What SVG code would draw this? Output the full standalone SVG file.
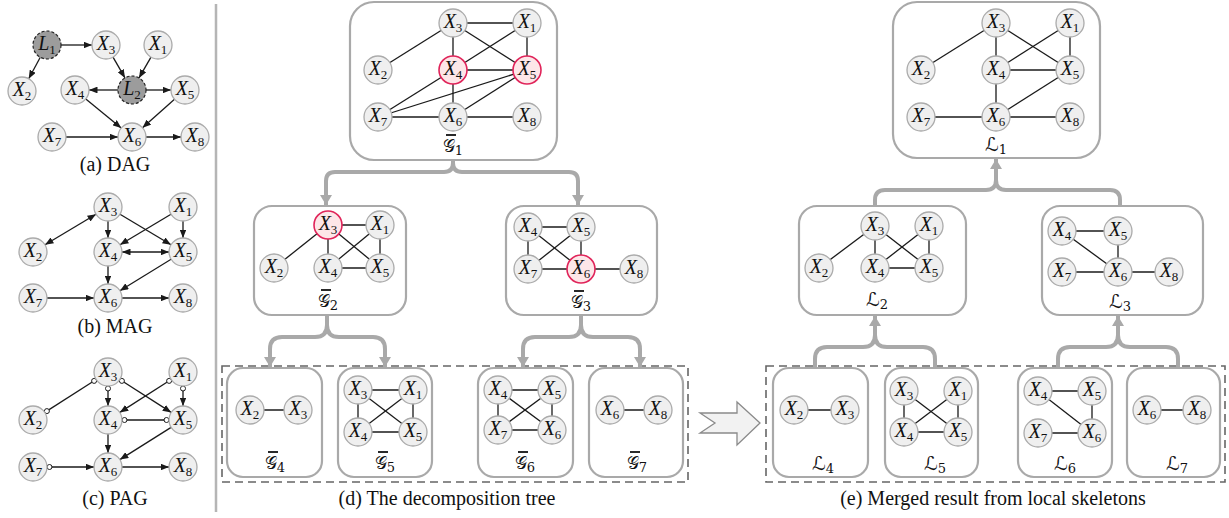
<svg xmlns="http://www.w3.org/2000/svg" width="1229" height="518" viewBox="0 0 1229 518">
<defs>
<style>
.nd{fill:#efefef;stroke:#ababab;stroke-width:1.3}
.hl{fill:#fde6e8;stroke:#e0245a;stroke-width:1.6}
.lt{fill:#9c9c9c;stroke:#222;stroke-width:1.2;stroke-dasharray:3 2}
.lb{font-family:"Liberation Serif",serif;font-style:italic;font-size:20px;text-anchor:middle;fill:#111}
.sb{font-style:normal;font-size:13px}
.e line{stroke:#1a1a1a;stroke-width:1.3}
.d line{stroke:#1a1a1a;stroke-width:1.3;marker-end:url(#ah)}
.bd{marker-start:url(#ah)}
.oc{fill:#fff;stroke:#1a1a1a;stroke-width:1}
.bx{fill:#fff;stroke:#a9a9a9;stroke-width:2.2}
.tr path{fill:none;stroke:#a9a9a9;stroke-width:4}
.cap{font-family:"Liberation Serif",serif;font-size:20px;text-anchor:middle;fill:#111}
.gl{font-family:"DejaVu Serif","DejaVu Sans",serif;font-size:17px;text-anchor:middle;fill:#111}
.sl{font-size:19px}
.gs{font-size:13px}
.ov{stroke:#111;stroke-width:1.8}
.dsh{fill:none;stroke:#666;stroke-width:1.6;stroke-dasharray:8 5}
</style>
<marker id="ah" viewBox="0 0 10 8" refX="10" refY="4" markerWidth="8.5" markerHeight="6.8" markerUnits="userSpaceOnUse" orient="auto-start-reverse"><path d="M0,0 L10,4 L0,8 z" fill="#1a1a1a"/></marker>
<marker id="ga" viewBox="0 0 10 12" refX="10" refY="6" markerWidth="10" markerHeight="12" markerUnits="userSpaceOnUse" orient="auto"><path d="M0,0 L10,6 L0,12 z" fill="#a9a9a9"/></marker>
</defs>
<rect width="1229" height="518" fill="#fff"/>

<!-- panel separator -->
<line x1="216" y1="4" x2="216" y2="512" stroke="#b5b5b5" stroke-width="2.5"/>

<!-- container boxes -->
<g id="box-g1"><rect class="bx" x="350" y="2" width="207" height="158" rx="24"/></g>
<g id="box-g2"><rect class="bx" x="254" y="206" width="152" height="109" rx="18"/></g>
<g id="box-g3"><rect class="bx" x="506" y="206" width="151" height="109" rx="18"/></g>
<g id="box-l1"><rect class="bx" x="893" y="2" width="207" height="156" rx="24"/></g>
<g id="box-l2"><rect class="bx" x="799" y="206" width="167" height="109" rx="18"/></g>
<g id="box-l3"><rect class="bx" x="1042" y="206" width="161" height="109" rx="18"/></g>
<rect class="dsh" x="222" y="366" width="466" height="116"/>
<rect class="dsh" x="766" y="366" width="459" height="116"/>
<g id="box-g4"><rect class="bx" x="227" y="368" width="95" height="109" rx="16"/></g>
<g id="box-g5"><rect class="bx" x="338" y="368" width="94" height="109" rx="16"/></g>
<g id="box-g6"><rect class="bx" x="478" y="368" width="95" height="109" rx="16"/></g>
<g id="box-g7"><rect class="bx" x="589" y="368" width="94" height="109" rx="16"/></g>
<g id="box-l4"><rect class="bx" x="773" y="368" width="95" height="109" rx="16"/></g>
<g id="box-l5"><rect class="bx" x="885" y="368" width="93" height="109" rx="16"/></g>
<g id="box-l6"><rect class="bx" x="1018" y="368" width="94" height="109" rx="16"/></g>
<g id="box-l7"><rect class="bx" x="1127" y="368" width="93" height="109" rx="16"/></g>

<g id="connectors">
 <!-- DAG -->
 <g class="d">
  <line x1="61" y1="45" x2="92" y2="45"/>
  <line x1="40.3" y1="57.3" x2="28.7" y2="78.7"/>
  <line x1="113" y1="57.1" x2="125" y2="77.9"/>
  <line x1="151" y1="57.1" x2="139" y2="77.9"/>
  <line x1="118" y1="90" x2="89" y2="90"/>
  <line x1="146" y1="90" x2="171" y2="90"/>
  <line x1="85.8" y1="98.9" x2="121.2" y2="128.1"/>
  <line x1="174.5" y1="99.3" x2="142.5" y2="127.7"/>
  <line x1="66" y1="137" x2="118" y2="137"/>
  <line x1="146" y1="137" x2="181" y2="137"/>
 </g>
 <!-- MAG -->
 <g class="d">
  <line class="bd" x1="96" y1="214.2" x2="45" y2="244.8"/>
  <line x1="108" y1="221" x2="108" y2="238"/>
  <line x1="120" y1="214.2" x2="171" y2="244.8"/>
  <line x1="171" y1="214.2" x2="120" y2="244.8"/>
  <line x1="183" y1="221" x2="183" y2="238"/>
  <line class="bd" x1="122" y1="252" x2="169" y2="252"/>
  <line x1="108" y1="266" x2="108" y2="284"/>
  <line x1="171.1" y1="259.3" x2="119.9" y2="290.7"/>
  <line x1="47" y1="298" x2="94" y2="298"/>
  <line x1="122" y1="298" x2="169" y2="298"/>
 </g>
 <!-- PAG -->
 <g class="e">
  <line x1="96.2" y1="379.5" x2="44.8" y2="412.4"/>
  <line x1="122" y1="420" x2="169" y2="420"/>
 </g>
 <g class="d">
  <line x1="108" y1="386" x2="108" y2="406"/>
  <line x1="119.8" y1="379.5" x2="171.2" y2="412.4"/>
  <line x1="171.2" y1="379.5" x2="119.8" y2="412.4"/>
  <line x1="183" y1="386" x2="183" y2="406"/>
  <line x1="108" y1="434" x2="108" y2="453"/>
  <line x1="171.1" y1="427.4" x2="119.9" y2="459.6"/>
  <line x1="47" y1="467" x2="94" y2="467"/>
  <line x1="122" y1="467" x2="169" y2="467"/>
 </g>
 <g id="pag-marks">
  <circle class="oc" cx="94.1" cy="380.9" r="2.5"/>
  <circle class="oc" cx="46.9" cy="411.1" r="2.5"/>
  <circle class="oc" cx="108" cy="388.5" r="2.5"/>
  <circle class="oc" cx="121.9" cy="380.9" r="2.5"/>
  <circle class="oc" cx="169.1" cy="380.9" r="2.5"/>
  <circle class="oc" cx="183" cy="388.5" r="2.5"/>
  <circle class="oc" cx="124.5" cy="420" r="2.5"/>
  <circle class="oc" cx="166.5" cy="420" r="2.5"/>
  <circle class="oc" cx="49.5" cy="467" r="2.5"/>
 </g>
 <!-- skeleton edges -->
 <g class="e">
  <!-- G1 -->
  <line x1="453" y1="23" x2="527" y2="23"/>
  <line x1="453" y1="23" x2="378" y2="70"/>
  <line x1="453" y1="23" x2="453" y2="70"/>
  <line x1="453" y1="23" x2="527" y2="70"/>
  <line x1="527" y1="23" x2="453" y2="70"/>
  <line x1="527" y1="23" x2="527" y2="70"/>
  <line x1="453" y1="70" x2="527" y2="70"/>
  <line x1="453" y1="70" x2="453" y2="117"/>
  <line x1="453" y1="70" x2="378" y2="117"/>
  <line x1="527" y1="70" x2="378" y2="117"/>
  <line x1="527" y1="70" x2="453" y2="117"/>
  <line x1="378" y1="117" x2="453" y2="117"/>
  <line x1="453" y1="117" x2="527" y2="117"/>
  <!-- L1 -->
  <line x1="996" y1="23" x2="921" y2="70"/>
  <line x1="996" y1="23" x2="996" y2="70"/>
  <line x1="996" y1="23" x2="1070" y2="70"/>
  <line x1="1070" y1="23" x2="996" y2="70"/>
  <line x1="1070" y1="23" x2="1070" y2="70"/>
  <line x1="996" y1="70" x2="1070" y2="70"/>
  <line x1="996" y1="70" x2="996" y2="117"/>
  <line x1="1070" y1="70" x2="996" y2="117"/>
  <line x1="921" y1="117" x2="996" y2="117"/>
  <line x1="996" y1="117" x2="1070" y2="117"/>
  <!-- G2 -->
  <line x1="328" y1="225" x2="380" y2="225"/>
  <line x1="328" y1="225" x2="274" y2="268"/>
  <line x1="328" y1="225" x2="328" y2="268"/>
  <line x1="328" y1="225" x2="380" y2="268"/>
  <line x1="380" y1="225" x2="328" y2="268"/>
  <line x1="380" y1="225" x2="380" y2="268"/>
  <line x1="328" y1="268" x2="380" y2="268"/>
  <!-- L2 -->
  <line x1="875" y1="226" x2="819" y2="268"/>
  <line x1="875" y1="226" x2="875" y2="268"/>
  <line x1="875" y1="226" x2="929" y2="268"/>
  <line x1="929" y1="226" x2="875" y2="268"/>
  <line x1="929" y1="226" x2="929" y2="268"/>
  <line x1="875" y1="268" x2="929" y2="268"/>
  <!-- G3 -->
  <line x1="528" y1="227" x2="581" y2="227"/>
  <line x1="528" y1="227" x2="528" y2="269"/>
  <line x1="528" y1="227" x2="581" y2="269"/>
  <line x1="581" y1="227" x2="528" y2="269"/>
  <line x1="581" y1="227" x2="581" y2="269"/>
  <line x1="528" y1="269" x2="581" y2="269"/>
  <line x1="581" y1="269" x2="634" y2="269"/>
  <!-- L3 -->
  <line x1="1062" y1="231" x2="1118" y2="231"/>
  <line x1="1062" y1="231" x2="1118" y2="272"/>
  <line x1="1118" y1="231" x2="1118" y2="272"/>
  <line x1="1062" y1="272" x2="1118" y2="272"/>
  <line x1="1118" y1="272" x2="1169" y2="272"/>
  <!-- G4 -->
  <line x1="250" y1="410" x2="298" y2="410"/>
  <!-- G5 -->
  <line x1="358" y1="390" x2="413" y2="390"/>
  <line x1="358" y1="390" x2="358" y2="432"/>
  <line x1="358" y1="390" x2="413" y2="432"/>
  <line x1="413" y1="390" x2="358" y2="432"/>
  <line x1="413" y1="390" x2="413" y2="432"/>
  <line x1="358" y1="432" x2="413" y2="432"/>
  <!-- G6 -->
  <line x1="498" y1="390" x2="552" y2="390"/>
  <line x1="498" y1="390" x2="498" y2="430"/>
  <line x1="498" y1="390" x2="552" y2="430"/>
  <line x1="552" y1="390" x2="498" y2="430"/>
  <line x1="552" y1="390" x2="552" y2="430"/>
  <line x1="498" y1="430" x2="552" y2="430"/>
  <!-- G7 -->
  <line x1="610" y1="410" x2="658" y2="410"/>
  <!-- L4 -->
  <line x1="794" y1="410" x2="845" y2="410"/>
  <!-- L5 -->
  <line x1="904" y1="391" x2="904" y2="432"/>
  <line x1="904" y1="391" x2="958" y2="432"/>
  <line x1="958" y1="391" x2="904" y2="432"/>
  <line x1="958" y1="391" x2="958" y2="432"/>
  <line x1="904" y1="432" x2="958" y2="432"/>
  <!-- L6 -->
  <line x1="1038" y1="391" x2="1092" y2="391"/>
  <line x1="1038" y1="391" x2="1092" y2="433"/>
  <line x1="1092" y1="391" x2="1092" y2="433"/>
  <line x1="1038" y1="433" x2="1092" y2="433"/>
  <!-- L7 -->
  <line x1="1147" y1="410" x2="1197" y2="410"/>
 </g>
 <!-- tree links -->
 <g class="tr">
  <path d="M453,160 V163 Q453,172 444,172 H335 Q326,172 326,181 V205" marker-end="url(#ga)"/>
  <path d="M453,160 V163 Q453,172 462,172 H569 Q578,172 578,181 V205" marker-end="url(#ga)"/>
  <path d="M327,315 V325 Q327,337 315,337 H282 Q270,337 270,349 V367" marker-end="url(#ga)"/>
  <path d="M327,315 V325 Q327,337 339,337 H373 Q385,337 385,349 V367" marker-end="url(#ga)"/>
  <path d="M581,315 V325 Q581,337 569,337 H535 Q523,337 523,349 V367" marker-end="url(#ga)"/>
  <path d="M581,315 V325 Q581,337 593,337 H628 Q640,337 640,349 V367" marker-end="url(#ga)"/>
  <path d="M875,206 V200 Q875,190 885,190 H986 Q996,190 996,180 V159" marker-end="url(#ga)"/>
  <path d="M1120,206 V200 Q1120,190 1110,190 H1006 Q996,190 996,180 V170"/>
  <path d="M815,368 V359 Q815,347 827,347 H863 Q875,347 875,335 V316" marker-end="url(#ga)"/>
  <path d="M935,368 V359 Q935,347 923,347 H887 Q875,347 875,335 V326"/>
  <path d="M1058,368 V359 Q1058,347 1070,347 H1106 Q1118,347 1118,335 V316" marker-end="url(#ga)"/>
  <path d="M1178,368 V359 Q1178,347 1166,347 H1130 Q1118,347 1118,335 V326"/>
 </g>
</g>

<!-- merge arrow -->
<polygon points="700,413 737,413 737,402 760,423 737,445 737,433 700,433 715,423" fill="#f2f2f2" stroke="#8a8a8a" stroke-width="1.3"/>

<!-- DAG nodes -->
<g id="dag-l1"><circle class="lt" cx="47" cy="45" r="14"/><text class="lb" x="47" y="50">L<tspan class="sb" dy="4">1</tspan></text></g>
<g id="dag-x3"><circle class="nd" cx="106" cy="45" r="14"/><text class="lb" x="106" y="50">X<tspan class="sb" dy="4">3</tspan></text></g>
<g id="dag-x1"><circle class="nd" cx="158" cy="45" r="14"/><text class="lb" x="158" y="50">X<tspan class="sb" dy="4">1</tspan></text></g>
<g id="dag-x2"><circle class="nd" cx="22" cy="91" r="14"/><text class="lb" x="22" y="96">X<tspan class="sb" dy="4">2</tspan></text></g>
<g id="dag-x4"><circle class="nd" cx="75" cy="90" r="14"/><text class="lb" x="75" y="95">X<tspan class="sb" dy="4">4</tspan></text></g>
<g id="dag-l2"><circle class="lt" cx="132" cy="90" r="14"/><text class="lb" x="132" y="95">L<tspan class="sb" dy="4">2</tspan></text></g>
<g id="dag-x5"><circle class="nd" cx="185" cy="90" r="14"/><text class="lb" x="185" y="95">X<tspan class="sb" dy="4">5</tspan></text></g>
<g id="dag-x7"><circle class="nd" cx="52" cy="137" r="14"/><text class="lb" x="52" y="142">X<tspan class="sb" dy="4">7</tspan></text></g>
<g id="dag-x6"><circle class="nd" cx="132" cy="137" r="14"/><text class="lb" x="132" y="142">X<tspan class="sb" dy="4">6</tspan></text></g>
<g id="dag-x8"><circle class="nd" cx="195" cy="137" r="14"/><text class="lb" x="195" y="142">X<tspan class="sb" dy="4">8</tspan></text></g>
<text class="cap" x="115" y="171">(a) DAG</text>

<!-- MAG nodes -->
<g id="mag-x3"><circle class="nd" cx="108" cy="207" r="14"/><text class="lb" x="108" y="212">X<tspan class="sb" dy="4">3</tspan></text></g>
<g id="mag-x1"><circle class="nd" cx="183" cy="207" r="14"/><text class="lb" x="183" y="212">X<tspan class="sb" dy="4">1</tspan></text></g>
<g id="mag-x2"><circle class="nd" cx="33" cy="252" r="14"/><text class="lb" x="33" y="257">X<tspan class="sb" dy="4">2</tspan></text></g>
<g id="mag-x4"><circle class="nd" cx="108" cy="252" r="14"/><text class="lb" x="108" y="257">X<tspan class="sb" dy="4">4</tspan></text></g>
<g id="mag-x5"><circle class="nd" cx="183" cy="252" r="14"/><text class="lb" x="183" y="257">X<tspan class="sb" dy="4">5</tspan></text></g>
<g id="mag-x7"><circle class="nd" cx="33" cy="298" r="14"/><text class="lb" x="33" y="303">X<tspan class="sb" dy="4">7</tspan></text></g>
<g id="mag-x6"><circle class="nd" cx="108" cy="298" r="14"/><text class="lb" x="108" y="303">X<tspan class="sb" dy="4">6</tspan></text></g>
<g id="mag-x8"><circle class="nd" cx="183" cy="298" r="14"/><text class="lb" x="183" y="303">X<tspan class="sb" dy="4">8</tspan></text></g>
<text class="cap" x="115" y="333">(b) MAG</text>

<!-- PAG nodes -->
<g id="pag-x3"><circle class="nd" cx="108" cy="372" r="14"/><text class="lb" x="108" y="377">X<tspan class="sb" dy="4">3</tspan></text></g>
<g id="pag-x1"><circle class="nd" cx="183" cy="372" r="14"/><text class="lb" x="183" y="377">X<tspan class="sb" dy="4">1</tspan></text></g>
<g id="pag-x2"><circle class="nd" cx="33" cy="420" r="14"/><text class="lb" x="33" y="425">X<tspan class="sb" dy="4">2</tspan></text></g>
<g id="pag-x4"><circle class="nd" cx="108" cy="420" r="14"/><text class="lb" x="108" y="425">X<tspan class="sb" dy="4">4</tspan></text></g>
<g id="pag-x5"><circle class="nd" cx="183" cy="420" r="14"/><text class="lb" x="183" y="425">X<tspan class="sb" dy="4">5</tspan></text></g>
<g id="pag-x7"><circle class="nd" cx="33" cy="467" r="14"/><text class="lb" x="33" y="472">X<tspan class="sb" dy="4">7</tspan></text></g>
<g id="pag-x6"><circle class="nd" cx="108" cy="467" r="14"/><text class="lb" x="108" y="472">X<tspan class="sb" dy="4">6</tspan></text></g>
<g id="pag-x8"><circle class="nd" cx="183" cy="467" r="14"/><text class="lb" x="183" y="472">X<tspan class="sb" dy="4">8</tspan></text></g>
<text class="cap" x="115" y="505">(c) PAG</text>

<!-- G1 -->
<g id="g1-x3"><circle class="nd" cx="453" cy="23" r="14"/><text class="lb" x="453" y="28">X<tspan class="sb" dy="4">3</tspan></text></g>
<g id="g1-x1"><circle class="nd" cx="527" cy="23" r="14"/><text class="lb" x="527" y="28">X<tspan class="sb" dy="4">1</tspan></text></g>
<g id="g1-x2"><circle class="nd" cx="378" cy="70" r="14"/><text class="lb" x="378" y="75">X<tspan class="sb" dy="4">2</tspan></text></g>
<g id="g1-x4"><circle class="hl" cx="453" cy="70" r="14"/><text class="lb" x="453" y="75">X<tspan class="sb" dy="4">4</tspan></text></g>
<g id="g1-x5"><circle class="hl" cx="527" cy="70" r="14"/><text class="lb" x="527" y="75">X<tspan class="sb" dy="4">5</tspan></text></g>
<g id="g1-x7"><circle class="nd" cx="378" cy="117" r="14"/><text class="lb" x="378" y="122">X<tspan class="sb" dy="4">7</tspan></text></g>
<g id="g1-x6"><circle class="nd" cx="453" cy="117" r="14"/><text class="lb" x="453" y="122">X<tspan class="sb" dy="4">6</tspan></text></g>
<g id="g1-x8"><circle class="nd" cx="527" cy="117" r="14"/><text class="lb" x="527" y="122">X<tspan class="sb" dy="4">8</tspan></text></g>
<g id="g1-label"><line class="ov" x1="446" y1="135" x2="456" y2="135"/><text class="gl" x="453" y="152">𝒢<tspan class="gs" dy="3">1</tspan></text></g>

<!-- G2 -->
<g id="g2-x3"><circle class="hl" cx="328" cy="225" r="14"/><text class="lb" x="328" y="230">X<tspan class="sb" dy="4">3</tspan></text></g>
<g id="g2-x1"><circle class="nd" cx="380" cy="225" r="14"/><text class="lb" x="380" y="230">X<tspan class="sb" dy="4">1</tspan></text></g>
<g id="g2-x2"><circle class="nd" cx="274" cy="268" r="14"/><text class="lb" x="274" y="273">X<tspan class="sb" dy="4">2</tspan></text></g>
<g id="g2-x4"><circle class="nd" cx="328" cy="268" r="14"/><text class="lb" x="328" y="273">X<tspan class="sb" dy="4">4</tspan></text></g>
<g id="g2-x5"><circle class="nd" cx="380" cy="268" r="14"/><text class="lb" x="380" y="273">X<tspan class="sb" dy="4">5</tspan></text></g>
<g id="g2-label"><line class="ov" x1="321" y1="290" x2="331" y2="290"/><text class="gl" x="328" y="307">𝒢<tspan class="gs" dy="3">2</tspan></text></g>

<!-- G3 -->
<g id="g3-x4"><circle class="nd" cx="528" cy="227" r="14"/><text class="lb" x="528" y="232">X<tspan class="sb" dy="4">4</tspan></text></g>
<g id="g3-x5"><circle class="nd" cx="581" cy="227" r="14"/><text class="lb" x="581" y="232">X<tspan class="sb" dy="4">5</tspan></text></g>
<g id="g3-x7"><circle class="nd" cx="528" cy="269" r="14"/><text class="lb" x="528" y="274">X<tspan class="sb" dy="4">7</tspan></text></g>
<g id="g3-x6"><circle class="hl" cx="581" cy="269" r="14"/><text class="lb" x="581" y="274">X<tspan class="sb" dy="4">6</tspan></text></g>
<g id="g3-x8"><circle class="nd" cx="634" cy="269" r="14"/><text class="lb" x="634" y="274">X<tspan class="sb" dy="4">8</tspan></text></g>
<g id="g3-label"><line class="ov" x1="574" y1="291" x2="584" y2="291"/><text class="gl" x="581" y="308">𝒢<tspan class="gs" dy="3">3</tspan></text></g>

<!-- G4 .. G7 -->
<g id="g4-x2"><circle class="nd" cx="250" cy="410" r="14"/><text class="lb" x="250" y="415">X<tspan class="sb" dy="4">2</tspan></text></g>
<g id="g4-x3"><circle class="nd" cx="298" cy="410" r="14"/><text class="lb" x="298" y="415">X<tspan class="sb" dy="4">3</tspan></text></g>
<g id="g4-label"><line class="ov" x1="268" y1="452" x2="278" y2="452"/><text class="gl" x="275" y="469">𝒢<tspan class="gs" dy="3">4</tspan></text></g>

<g id="g5-x3"><circle class="nd" cx="358" cy="390" r="14"/><text class="lb" x="358" y="395">X<tspan class="sb" dy="4">3</tspan></text></g>
<g id="g5-x1"><circle class="nd" cx="413" cy="390" r="14"/><text class="lb" x="413" y="395">X<tspan class="sb" dy="4">1</tspan></text></g>
<g id="g5-x4"><circle class="nd" cx="358" cy="432" r="14"/><text class="lb" x="358" y="437">X<tspan class="sb" dy="4">4</tspan></text></g>
<g id="g5-x5"><circle class="nd" cx="413" cy="432" r="14"/><text class="lb" x="413" y="437">X<tspan class="sb" dy="4">5</tspan></text></g>
<g id="g5-label"><line class="ov" x1="378" y1="452" x2="388" y2="452"/><text class="gl" x="385" y="469">𝒢<tspan class="gs" dy="3">5</tspan></text></g>

<g id="g6-x4"><circle class="nd" cx="498" cy="390" r="14"/><text class="lb" x="498" y="395">X<tspan class="sb" dy="4">4</tspan></text></g>
<g id="g6-x5"><circle class="nd" cx="552" cy="390" r="14"/><text class="lb" x="552" y="395">X<tspan class="sb" dy="4">5</tspan></text></g>
<g id="g6-x7"><circle class="nd" cx="498" cy="430" r="14"/><text class="lb" x="498" y="435">X<tspan class="sb" dy="4">7</tspan></text></g>
<g id="g6-x6"><circle class="nd" cx="552" cy="430" r="14"/><text class="lb" x="552" y="435">X<tspan class="sb" dy="4">6</tspan></text></g>
<g id="g6-label"><line class="ov" x1="518" y1="452" x2="528" y2="452"/><text class="gl" x="525" y="469">𝒢<tspan class="gs" dy="3">6</tspan></text></g>

<g id="g7-x6"><circle class="nd" cx="610" cy="410" r="14"/><text class="lb" x="610" y="415">X<tspan class="sb" dy="4">6</tspan></text></g>
<g id="g7-x8"><circle class="nd" cx="658" cy="410" r="14"/><text class="lb" x="658" y="415">X<tspan class="sb" dy="4">8</tspan></text></g>
<g id="g7-label"><line class="ov" x1="630" y1="452" x2="640" y2="452"/><text class="gl" x="637" y="469">𝒢<tspan class="gs" dy="3">7</tspan></text></g>

<text class="cap" x="447" y="505">(d) The decomposition tree</text>

<!-- L1 -->
<g id="l1-x3"><circle class="nd" cx="996" cy="23" r="14"/><text class="lb" x="996" y="28">X<tspan class="sb" dy="4">3</tspan></text></g>
<g id="l1-x1"><circle class="nd" cx="1070" cy="23" r="14"/><text class="lb" x="1070" y="28">X<tspan class="sb" dy="4">1</tspan></text></g>
<g id="l1-x2"><circle class="nd" cx="921" cy="70" r="14"/><text class="lb" x="921" y="75">X<tspan class="sb" dy="4">2</tspan></text></g>
<g id="l1-x4"><circle class="nd" cx="996" cy="70" r="14"/><text class="lb" x="996" y="75">X<tspan class="sb" dy="4">4</tspan></text></g>
<g id="l1-x5"><circle class="nd" cx="1070" cy="70" r="14"/><text class="lb" x="1070" y="75">X<tspan class="sb" dy="4">5</tspan></text></g>
<g id="l1-x7"><circle class="nd" cx="921" cy="117" r="14"/><text class="lb" x="921" y="122">X<tspan class="sb" dy="4">7</tspan></text></g>
<g id="l1-x6"><circle class="nd" cx="996" cy="117" r="14"/><text class="lb" x="996" y="122">X<tspan class="sb" dy="4">6</tspan></text></g>
<g id="l1-x8"><circle class="nd" cx="1070" cy="117" r="14"/><text class="lb" x="1070" y="122">X<tspan class="sb" dy="4">8</tspan></text></g>
<g id="l1-label"><text class="gl sl" x="996" y="151">ℒ<tspan class="gs" dy="3">1</tspan></text></g>

<!-- L2 -->
<g id="l2-x3"><circle class="nd" cx="875" cy="226" r="14"/><text class="lb" x="875" y="231">X<tspan class="sb" dy="4">3</tspan></text></g>
<g id="l2-x1"><circle class="nd" cx="929" cy="226" r="14"/><text class="lb" x="929" y="231">X<tspan class="sb" dy="4">1</tspan></text></g>
<g id="l2-x2"><circle class="nd" cx="819" cy="268" r="14"/><text class="lb" x="819" y="273">X<tspan class="sb" dy="4">2</tspan></text></g>
<g id="l2-x4"><circle class="nd" cx="875" cy="268" r="14"/><text class="lb" x="875" y="273">X<tspan class="sb" dy="4">4</tspan></text></g>
<g id="l2-x5"><circle class="nd" cx="929" cy="268" r="14"/><text class="lb" x="929" y="273">X<tspan class="sb" dy="4">5</tspan></text></g>
<g id="l2-label"><text class="gl sl" x="877" y="306">ℒ<tspan class="gs" dy="3">2</tspan></text></g>

<!-- L3 -->
<g id="l3-x4"><circle class="nd" cx="1062" cy="231" r="14"/><text class="lb" x="1062" y="236">X<tspan class="sb" dy="4">4</tspan></text></g>
<g id="l3-x5"><circle class="nd" cx="1118" cy="231" r="14"/><text class="lb" x="1118" y="236">X<tspan class="sb" dy="4">5</tspan></text></g>
<g id="l3-x7"><circle class="nd" cx="1062" cy="272" r="14"/><text class="lb" x="1062" y="277">X<tspan class="sb" dy="4">7</tspan></text></g>
<g id="l3-x6"><circle class="nd" cx="1118" cy="272" r="14"/><text class="lb" x="1118" y="277">X<tspan class="sb" dy="4">6</tspan></text></g>
<g id="l3-x8"><circle class="nd" cx="1169" cy="272" r="14"/><text class="lb" x="1169" y="277">X<tspan class="sb" dy="4">8</tspan></text></g>
<g id="l3-label"><text class="gl sl" x="1120" y="308">ℒ<tspan class="gs" dy="3">3</tspan></text></g>

<!-- L4 .. L7 -->
<g id="l4-x2"><circle class="nd" cx="794" cy="410" r="14"/><text class="lb" x="794" y="415">X<tspan class="sb" dy="4">2</tspan></text></g>
<g id="l4-x3"><circle class="nd" cx="845" cy="410" r="14"/><text class="lb" x="845" y="415">X<tspan class="sb" dy="4">3</tspan></text></g>
<g id="l4-label"><text class="gl sl" x="823" y="470">ℒ<tspan class="gs" dy="3">4</tspan></text></g>

<g id="l5-x3"><circle class="nd" cx="904" cy="391" r="14"/><text class="lb" x="904" y="396">X<tspan class="sb" dy="4">3</tspan></text></g>
<g id="l5-x1"><circle class="nd" cx="958" cy="391" r="14"/><text class="lb" x="958" y="396">X<tspan class="sb" dy="4">1</tspan></text></g>
<g id="l5-x4"><circle class="nd" cx="904" cy="432" r="14"/><text class="lb" x="904" y="437">X<tspan class="sb" dy="4">4</tspan></text></g>
<g id="l5-x5"><circle class="nd" cx="958" cy="432" r="14"/><text class="lb" x="958" y="437">X<tspan class="sb" dy="4">5</tspan></text></g>
<g id="l5-label"><text class="gl sl" x="935" y="470">ℒ<tspan class="gs" dy="3">5</tspan></text></g>

<g id="l6-x4"><circle class="nd" cx="1038" cy="391" r="14"/><text class="lb" x="1038" y="396">X<tspan class="sb" dy="4">4</tspan></text></g>
<g id="l6-x5"><circle class="nd" cx="1092" cy="391" r="14"/><text class="lb" x="1092" y="396">X<tspan class="sb" dy="4">5</tspan></text></g>
<g id="l6-x7"><circle class="nd" cx="1038" cy="433" r="14"/><text class="lb" x="1038" y="438">X<tspan class="sb" dy="4">7</tspan></text></g>
<g id="l6-x6"><circle class="nd" cx="1092" cy="433" r="14"/><text class="lb" x="1092" y="438">X<tspan class="sb" dy="4">6</tspan></text></g>
<g id="l6-label"><text class="gl sl" x="1065" y="470">ℒ<tspan class="gs" dy="3">6</tspan></text></g>

<g id="l7-x6"><circle class="nd" cx="1147" cy="410" r="14"/><text class="lb" x="1147" y="415">X<tspan class="sb" dy="4">6</tspan></text></g>
<g id="l7-x8"><circle class="nd" cx="1197" cy="410" r="14"/><text class="lb" x="1197" y="415">X<tspan class="sb" dy="4">8</tspan></text></g>
<g id="l7-label"><text class="gl sl" x="1177" y="470">ℒ<tspan class="gs" dy="3">7</tspan></text></g>

<text class="cap" x="993" y="505">(e) Merged result from local skeletons</text>
</svg>
